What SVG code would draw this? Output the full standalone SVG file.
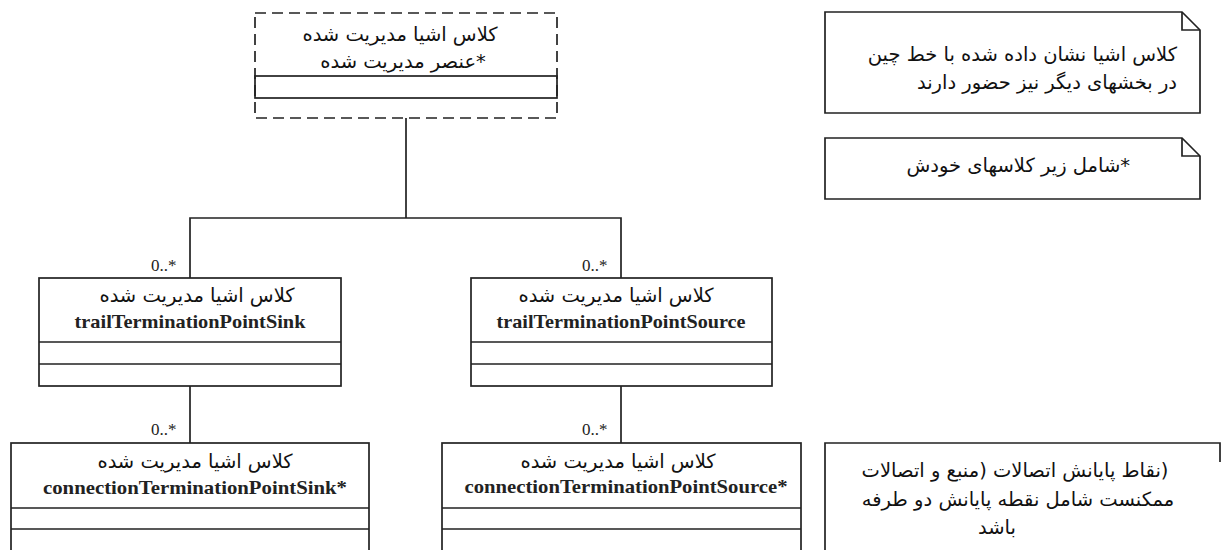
<svg xmlns="http://www.w3.org/2000/svg" width="1223" height="550" viewBox="0 0 1223 550">
  <style>
    .box { fill: #fff; stroke: #222; stroke-width: 1.7; }
    .dash { fill: none; stroke: #222; stroke-width: 1.7; stroke-dasharray: 11 6; }
    .line { fill: none; stroke: #222; stroke-width: 1.7; }
    .fa { font-family: "DejaVu Sans", "Noto Sans", sans-serif; font-size: 19.5px; fill: #111; direction: rtl; unicode-bidi: embed; }
    .en { font-family: "Liberation Serif", "Times New Roman", serif; font-size: 19px; font-weight: bold; fill: #222; }
    .mult { font-family: "Liberation Serif", "Times New Roman", serif; font-size: 17px; fill: #222; }
    .mid { text-anchor: middle; }
  </style>
  <rect width="1223" height="550" fill="#fff"/>

  <!-- associations -->
  <g id="connectors">
    <path class="line" d="M406 118 V218 M190 278 V218 H621 V278"/>
    <path class="line" d="M190 386 V443 M621 386 V443"/>
    <text class="mult" x="151" y="271">0..*</text>
    <text class="mult" x="582" y="271">0..*</text>
    <text class="mult" x="151" y="435">0..*</text>
    <text class="mult" x="582" y="435">0..*</text>
  </g>

  <!-- abstract managed element (dashed) -->
  <g id="managedElement">
    <rect class="dash" x="255" y="13" width="302" height="105"/>
    <rect class="line" x="255" y="76" width="302" height="22"/>
    <text class="fa mid" x="400" y="41">کلاس اشیا مدیریت شده</text>
    <text class="fa mid" x="403" y="68">*عنصر مدیریت شده</text>
  </g>

  <g id="ttpSink">
    <rect class="box" x="39" y="278" width="302" height="108"/>
    <path class="line" d="M39 342 H341 M39 364 H341"/>
    <text class="fa mid" x="197" y="302">کلاس اشیا مدیریت شده</text>
    <text class="en mid" x="190" y="328" textLength="231" lengthAdjust="spacingAndGlyphs">trailTerminationPointSink</text>
  </g>

  <g id="ttpSource">
    <rect class="box" x="471" y="278" width="301" height="108"/>
    <path class="line" d="M471 342 H772 M471 364 H772"/>
    <text class="fa mid" x="616" y="302">کلاس اشیا مدیریت شده</text>
    <text class="en mid" x="621" y="328" textLength="249" lengthAdjust="spacingAndGlyphs">trailTerminationPointSource</text>
  </g>

  <g id="ctpSink">
    <rect class="box" x="11" y="443" width="358" height="120"/>
    <path class="line" d="M11 508 H369 M11 529 H369"/>
    <text class="fa mid" x="195" y="468">کلاس اشیا مدیریت شده</text>
    <text class="en mid" x="195" y="494" textLength="304" lengthAdjust="spacingAndGlyphs">connectionTerminationPointSink*</text>
  </g>

  <g id="ctpSource">
    <rect class="box" x="442" y="443" width="359" height="120"/>
    <path class="line" d="M442 508 H801 M442 529 H801"/>
    <text class="fa mid" x="618" y="468">کلاس اشیا مدیریت شده</text>
    <text class="en mid" x="626" y="493" textLength="323" lengthAdjust="spacingAndGlyphs">connectionTerminationPointSource*</text>
  </g>

  <!-- notes -->
  <g id="noteDashed">
    <path class="box" d="M825 12 H1182 L1200 30 V113 H825 Z"/>
    <path class="line" d="M1182 12 V30 H1200"/>
    <text class="fa" x="1177" y="61">کلاس اشیا نشان داده شده با خط چین</text>
    <text class="fa" x="1177" y="89">در بخشهای دیگر نیز حضور دارند</text>
  </g>

  <g id="noteSubclasses">
    <path class="box" d="M825 138 H1182 L1200 156 V199 H825 Z"/>
    <path class="line" d="M1182 138 V156 H1200"/>
    <text class="fa" x="1130" y="172">*شامل زیر کلاسهای خودش</text>
  </g>

  <g id="noteCtp">
    <path class="line" d="M825 560 V443 H1220 V462"/>
    <text class="fa mid" x="1015" y="477">(نقاط پایانش اتصالات (منبع و اتصالات</text>
    <text class="fa mid" x="1018" y="506">ممکنست شامل نقطه پایانش دو طرفه</text>
    <text class="fa mid" x="997" y="534">باشد</text>
  </g>
</svg>
